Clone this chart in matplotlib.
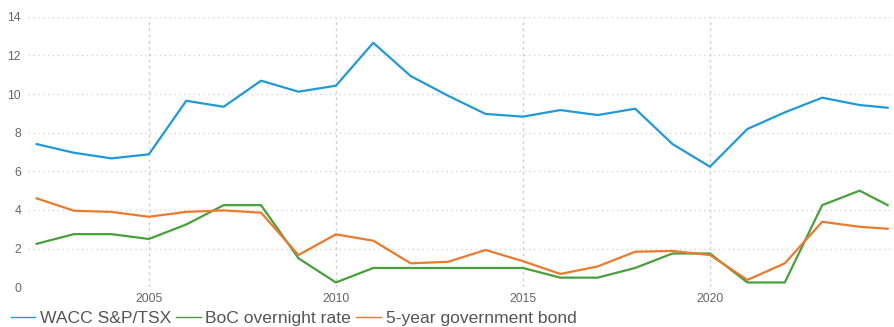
import matplotlib.pyplot as plt

plt.rcParams['font.family'] = ['Liberation Sans', 'DejaVu Sans']

years = [2002, 2003, 2004, 2005, 2006, 2007, 2008, 2009, 2010, 2011, 2012, 2013,
         2014, 2015, 2016, 2017, 2018, 2019, 2020, 2021, 2022, 2023, 2024, 2024.75]

wacc = [7.41, 6.96, 6.67, 6.88, 9.65, 9.34, 10.69, 10.12, 10.43, 12.65, 10.93, 9.91,
        8.97, 8.83, 9.17, 8.91, 9.24, 7.41, 6.24, 8.19, 9.05, 9.81, 9.43, 9.29]
boc = [2.25, 2.75, 2.75, 2.5, 3.25, 4.25, 4.25, 1.5, 0.25, 1.0, 1.0, 1.0,
       1.0, 1.0, 0.5, 0.5, 1.0, 1.75, 1.75, 0.25, 0.25, 4.25, 5.0, 4.25]
bond5 = [4.60, 3.96, 3.90, 3.65, 3.90, 3.98, 3.86, 1.67, 2.74, 2.41, 1.24, 1.32,
         1.93, 1.35, 0.69, 1.08, 1.84, 1.88, 1.67, 0.38, 1.24, 3.39, 3.13, 3.03]

fig = plt.figure(figsize=(8.94, 3.27), dpi=100)
ax = fig.add_axes([28 / 894, 39.7 / 327, 1 - 28 / 894, 270.6 / 327])

ax.plot(years, wacc, color='#1f9ad9', lw=1.6, label='WACC S&P/TSX')
ax.plot(years, boc, color='#47a03c', lw=1.6, label='BoC overnight rate')
ax.plot(years, bond5, color='#ec7a2c', lw=1.6, label='5-year government bond')

ax.set_xlim(2001.77, 2024.92)
ax.set_ylim(0, 14)
ax.set_yticks(range(0, 15, 2))
ax.set_xticks([2005, 2010, 2015, 2020])

for s in ax.spines.values():
    s.set_visible(False)
ax.tick_params(length=0, labelsize=8.8, colors='#666666')
ax.tick_params(axis='y', pad=5)
ax.tick_params(axis='x', pad=4)
ax.grid(True, axis='y', linestyle=(0, (1, 2.5)), color='#d4d4d4', lw=1)
ax.grid(True, axis='x', linestyle=(0, (2, 2.5)), color='#d0d0d0', lw=1)
ax.set_axisbelow(True)

leg = fig.legend(loc='lower left', bbox_to_anchor=(0.0, -0.028), ncol=3, frameon=False,
                 fontsize=12.6, handlelength=1.4, handletextpad=0.28, columnspacing=0.28,
                 borderaxespad=0.2, labelcolor='#555555')
for line in leg.get_lines():
    line.set_linewidth(1.0)

fig.savefig('out.png', dpi=100)
